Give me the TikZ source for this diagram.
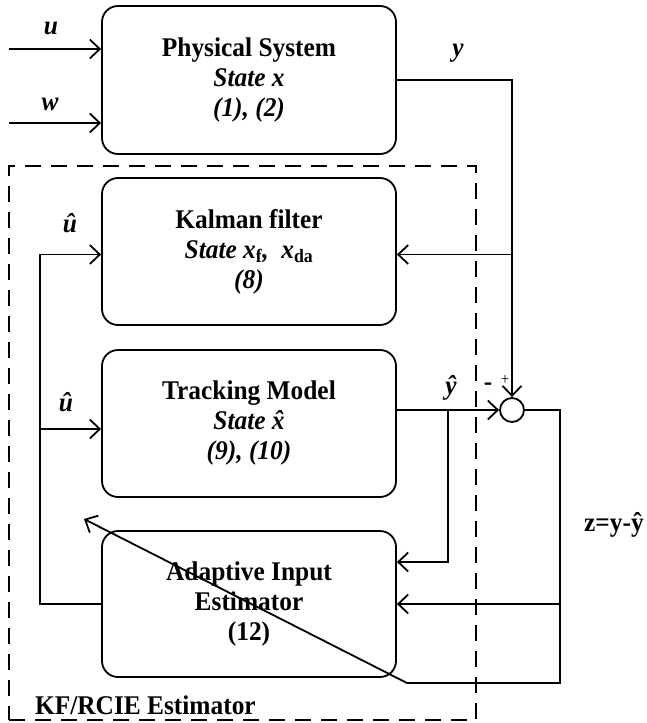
\documentclass[tikz,border=0pt]{standalone}
\usepackage{fontspec}
\setmainfont{Liberation Serif}[FakeStretch=0.94]
\usetikzlibrary{arrows.meta,positioning,calc}
\tikzset{
  blk/.style={draw,rounded corners=16pt,minimum width=294pt,minimum height=147pt,
    align=center,font=\bfseries\fontsize{27}{30}\selectfont,line width=1.8pt,inner sep=0pt},
  sig/.style={-{Straight Barb[length=10pt,width=19pt]},line width=1.8pt},
  wire/.style={line width=1.8pt},
  lbl/.style={font=\bfseries\itshape\fontsize{27}{30}\selectfont,inner sep=0pt},
  txt/.style={font=\bfseries\fontsize{27}{30}\selectfont,inner sep=0pt},
  sumc/.style={circle,draw,line width=1.8pt,minimum size=24pt,inner sep=0pt},
  frame/.style={draw,dash pattern=on 16pt off 10pt,line width=2.2pt,
    minimum width=467pt,minimum height=554pt,inner sep=0pt}
}
\newcommand{\xhat}{\accent"02C6 x}
\begin{document}
\begin{tikzpicture}[x=1pt,y=1pt]
  \useasboundingbox (0,0) rectangle (646,-723);
  \node[frame] (est) at (242.5,-443) {};
  \node[blk,minimum height=148pt] (phys) at (249,-80)
    {Physical System\\\textit{State x}\\\textit{(1), (2)}};
  \node[blk] (kf) at (249,-251.5)
    {Kalman filter\\\textit{State x\textsubscript{\upshape f}, \ x\textsubscript{\upshape da}}\\\textit{(8)}};
  \node[blk] (tm) at (249,-423.5)
    {Tracking Model\\\textit{State \xhat}\\\textit{(9), (10)}};
  \node[blk,minimum height=146pt] (aie) at (249,-604)
    {Adaptive Input\\Estimator\\(12)};
  \node[sumc] (sum) at (512,-410) {};
  \coordinate (uin) at (9,-49);
  \coordinate (win) at (9,-123);
  \coordinate (br) at (448,-410);
  \coordinate (zc) at (560,-683);
  \coordinate (tun) at (407,-683);
  \coordinate (tunend) at (84,-519);
  \coordinate (lb) at (40,-604);
  \coordinate (kfin) at ([yshift=-3pt]kf.west);
  \coordinate (tmin) at ([yshift=-5.5pt]tm.west);
  % inputs and measurement
  \draw[sig] (uin) -- (uin -| phys.west);
  \draw[sig] (win) -- (win -| phys.west);
  \draw[sig] (phys.east) -| (sum.north);
  \draw[sig] (kfin -| sum) -- (kfin -| kf.east);
  \draw[sig] (tm.east |- sum) -- (sum.west);
  \draw[sig] (br) |- ([yshift=42pt]aie.east);
  % residual loop
  \draw[wire] (sum.east) -| (zc) -- (tun);
  \draw[sig] (tun) -- (tunend);
  \draw[sig] (aie.east -| zc) -- (aie.east);
  % input estimate feedback
  \draw[sig] (aie.west) -- (lb) |- (kfin);
  \draw[sig] (lb |- tmin) -- (tmin);
  % labels
  \node[lbl] at (51,-28) {u};
  \node[lbl] at (50,-104) {w};
  \node[lbl] at (458,-53) {y};
  \node[lbl] at (70,-223) {û};
  \node[lbl] at (66,-402) {û};
  \node[lbl] at (451,-388) {ŷ};
  \node[txt] at (488,-387) {-};
  \node[font=\fontsize{16}{18}\selectfont,inner sep=0pt] at (505,-380) {+};
  \node[txt] at (614,-525) {z=y-ŷ};
  \node[txt,anchor=base west] at ([xshift=27pt,yshift=7pt]est.south west) {KF/RCIE Estimator};
\end{tikzpicture}
\end{document}
